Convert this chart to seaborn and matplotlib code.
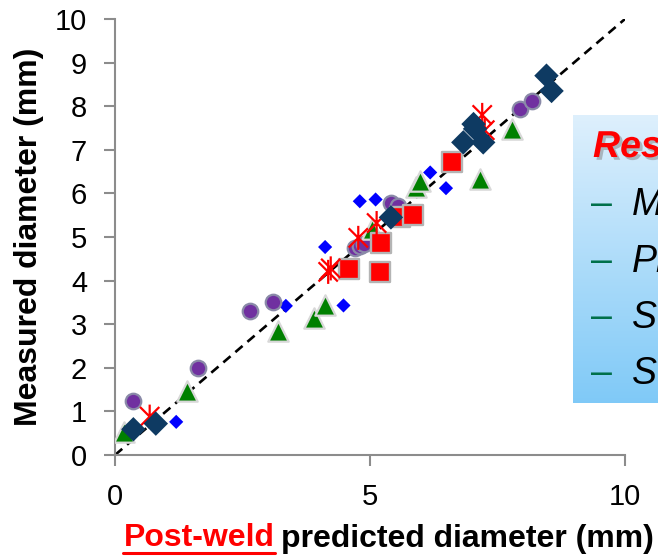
import numpy as np
import matplotlib
matplotlib.use("Agg")
import matplotlib.pyplot as plt
import seaborn as sns
from matplotlib.path import Path
from matplotlib.markers import MarkerStyle
from matplotlib.lines import Line2D
import matplotlib.patheffects as pe

# ---- data ----
blue_x = [1.20, 3.35, 4.48, 4.12, 4.80, 5.11, 6.18, 6.49]
blue_y = [0.76, 3.42, 3.43, 4.77, 5.82, 5.86, 6.48, 6.12]

purple_x = [0.36, 1.62, 2.65, 3.09, 4.71, 4.80, 4.88, 5.42, 5.55, 7.94, 8.17]
purple_y = [1.24, 2.00, 3.30, 3.51, 4.75, 4.80, 4.85, 5.78, 5.70, 7.93, 8.11]

green_x = [0.18, 1.42, 3.19, 3.90, 4.12, 5.03, 5.90, 5.98, 7.16, 7.78]
green_y = [0.53, 1.47, 2.85, 3.15, 3.45, 5.19, 6.15, 6.28, 6.33, 7.48]

square_x = [4.58, 5.20, 5.21, 5.59, 5.85, 6.60]
square_y = [4.27, 4.19, 4.87, 5.45, 5.51, 6.71]

star_x = [0.68, 4.18, 4.23, 4.77, 5.13, 7.20, 7.25]
star_y = [0.88, 4.20, 4.28, 4.98, 5.32, 7.80, 7.45]

navy_x = [0.36, 0.80, 5.41, 6.83, 7.03, 7.06, 7.22, 8.46, 8.56]
navy_y = [0.59, 0.72, 5.45, 7.17, 7.59, 7.48, 7.17, 8.70, 8.35]

line_x = [0, 10]
line_y = [0, 10]

y_ticks = list(range(0, 11))
x_ticks = [0, 5, 10]

legend_title = "Res"
legend_items = ["M", "Pl", "S", "S"]

# ---- figure ----
sns.set_theme(style="white")
plt.rcParams["font.family"] = ["Liberation Sans", "DejaVu Sans"]

W, H = 658, 558
fig = plt.figure(figsize=(W / 100, H / 100), dpi=100)
fig.patch.set_facecolor("white")
ax = fig.add_axes([115 / W, 1 - 455 / H, 510 / W, 436 / H])
ax.set_facecolor("white")

sns.lineplot(x=line_x, y=line_y, ax=ax, color="black", linewidth=1.9,
             linestyle=(0, (3.6, 2.4)), zorder=1)

sns.scatterplot(x=blue_x, y=blue_y, ax=ax, marker="D", s=52,
                color="#0000FF", edgecolor="none", zorder=3)
sns.scatterplot(x=purple_x, y=purple_y, ax=ax, marker="o", s=125,
                color="#7030A0", edgecolor="#8A8AA8", linewidth=1.6, zorder=3)
sns.scatterplot(x=green_x, y=green_y, ax=ax, marker="^", s=215,
                color="#008000", edgecolor="#D8D8D8", linewidth=1.6, zorder=3)
sns.scatterplot(x=square_x, y=square_y, ax=ax, marker="s", s=190,
                color="#FF0000", edgecolor="#B4B4B4", linewidth=1.7, zorder=3)

ast_path = Path([(0, -1), (0, 1), (-0.8, -0.8), (0.8, 0.8), (-0.8, 0.8), (0.8, -0.8)],
                [Path.MOVETO, Path.LINETO] * 3)
ast_marker = MarkerStyle(ast_path, fillstyle="none")
sns.scatterplot(x=star_x, y=star_y, ax=ax, marker=ast_marker, s=300,
                color="#FF0000", linewidth=1.6, zorder=3)

sns.scatterplot(x=navy_x, y=navy_y, ax=ax, marker="D", s=155,
                color="#0E3A62", edgecolor="none", zorder=3)

ax.set_xlim(0, 10)
ax.set_ylim(0, 10)
ax.set_xticks(x_ticks)
ax.set_yticks(y_ticks)
ax.set_xticklabels([str(v) for v in x_ticks])
ax.set_yticklabels([str(v) for v in y_ticks])
ax.tick_params(axis="both", direction="out", length=8, width=1.5,
               color="#8C8C8C", labelsize=21, labelcolor="black", pad=12)
ax.tick_params(axis="x", bottom=True)
ax.tick_params(axis="y", left=True)
for side in ["top", "right"]:
    ax.spines[side].set_visible(False)
for side in ["left", "bottom"]:
    ax.spines[side].set_color("#8C8C8C")
    ax.spines[side].set_linewidth(1.5)
ax.set_xlabel("")
ax.set_ylabel("Measured diameter (mm)", fontsize=23, fontweight="bold", color="black")
ax.yaxis.set_label_coords((44 - 115) / 510, 0.5)

# x label: red underlined part + black part
fig.text(124 / W, 1 - 546.5 / H, "Post-weld", color="#FF0000", fontsize=23,
         fontweight="bold", ha="left", va="baseline")
fig.text(281 / W, 1 - 546.5 / H, "predicted diameter (mm)", color="black", fontsize=23,
         fontweight="bold", ha="left", va="baseline")
fig.add_artist(Line2D([123 / W, 275 / W], [1 - 553 / H, 1 - 553 / H],
                      transform=fig.transFigure, color="#FF0000", linewidth=2.2))

# partial gradient legend box at right edge
lax = fig.add_axes([573 / W, 1 - 403 / H, (W - 573) / W, (403 - 115) / H])
top = np.array([0.87, 0.94, 0.99])
bot = np.array([0.50, 0.79, 0.97])
t = np.linspace(0, 1, 256)[:, None]
grad = (top[None, :] * (1 - t) + bot[None, :] * t)[:, None, :]
lax.imshow(grad, aspect="auto", extent=[0, 1, 0, 1], interpolation="bilinear")
lax.set_axis_off()

fig.text(593 / W, 1 - 157 / H, legend_title, color="#FF0000", fontsize=27,
         fontweight="bold", fontstyle="italic", ha="left", va="baseline",
         path_effects=[pe.withSimplePatchShadow(offset=(2, -2), shadow_rgbFace="#808080",
                                                alpha=0.5)])
baselines = [215, 272, 328, 384]
for label, b in zip(legend_items, baselines):
    fig.text(591 / W, 1 - b / H, "\u2013", color="#00704A", fontsize=27,
             ha="left", va="baseline")
    fig.text(632 / W, 1 - b / H, label, color="black", fontsize=27,
             fontstyle="italic", ha="left", va="baseline")

fig.savefig("out.png", dpi=100, facecolor="white")
